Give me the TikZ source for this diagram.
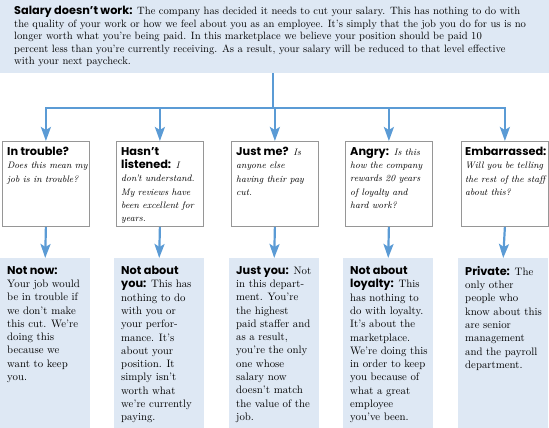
\documentclass[tikz,border=0pt]{standalone}
\usepackage{fontspec}
\newfontfamily\headfont{Poppins}
\usetikzlibrary{arrows.meta}
\usetikzlibrary{positioning}
\definecolor{lineblue}{RGB}{91,155,213}
\definecolor{boxfill}{RGB}{222,232,244}
\definecolor{boxgray}{RGB}{150,150,150}
\newcommand{\hd}[1]{{\headfont\bfseries\fontsize{11.3}{13.3}\selectfont #1}}
\newcommand{\qi}{\itshape\fontsize{9.4}{13}\selectfont}

\begin{document}
\begin{tikzpicture}[x=1pt,y=-1pt,>={Stealth[length=14pt,width=10pt,inset=3pt]},
  link/.style={lineblue,line width=2.2pt},
  qbox/.style={draw=boxgray,line width=0.8pt,minimum width=87pt,minimum height=85pt,anchor=north west,inner sep=0pt},
  abox/.style={fill=boxfill,minimum width=90pt,minimum height=170pt,anchor=north west,inner sep=0pt},
  txt/.style={anchor=north west,inner sep=0pt,align=left,font=\fontsize{10.8}{13.3}\selectfont}]

\useasboundingbox (0,0) rectangle (549,428);

% top statement
\node[fill=boxfill,minimum width=549pt,minimum height=73pt,anchor=north west,inner sep=0pt] (top) at (0,0) {};
\node[txt,font=\fontsize{10.6}{12.6}\selectfont] (toptxt) at (14,6) {\hd{Salary doesn’t work:} The company has decided it needs to cut your salary. This has nothing to do with\\
the quality of your work or how we feel about you as an employee. It’s simply that the job you do for us is no\\
longer worth what you’re being paid. In this marketplace we believe your position should be paid 10\\
percent less than you’re currently receiving. As a result, your salary will be reduced to that level effective\\
with your next paycheck.};

% questions
\node[qbox] (q1) at (2,141) {};
\node[qbox] (q2) at (116,141) {};
\node[qbox] (q3) at (231,141) {};
\node[qbox] (q4) at (345,141) {};
\node[qbox] (q5) at (461,141) {};

\node[txt] (q1txt) at (7,147) {\hd{In trouble?}\\ \qi Does this mean my\\ \qi job is in trouble?};
\node[txt] (q2txt) at (121,147) {\hd{Hasn’t}\\ \hd{listened:} \qi I\\ \qi don’t understand.\\ \qi My reviews have\\ \qi been excellent for\\ \qi years.};
\node[txt] (q3txt) at (236,147) {\hd{Just me?} \qi Is\\ \qi anyone else\\ \qi having their pay\\ \qi cut.};
\node[txt] (q4txt) at (350,147) {\hd{Angry:} \qi Is this\\ \qi how the company\\ \qi rewards 20 years\\ \qi of loyalty and\\ \qi hard work?};
\node[txt] (q5txt) at (465,147) {\hd{Embarrassed:}\\ \qi Will you be telling\\ \qi the rest of the staff\\ \qi about this?};

% answers
\node[abox] (a1) at (0,258) {};
\node[abox] (a2) at (114,258) {};
\node[abox] (a3) at (229,258) {};
\node[abox] (a4) at (343,258) {};
\node[abox] (a5) at (458,258) {};

\node[txt] (a1txt) at (7,266) {\hd{Not now:}\\ Your job would\\ be in trouble if\\ we don’t make\\ this cut. We’re\\ doing this\\ because we\\ want to keep\\ you.};
\node[txt] (a2txt) at (121,266) {\hd{Not about}\\ \hd{you:} This has\\ nothing to do\\ with you or\\ your perfor-\\ mance. It’s\\ about your\\ position. It\\ simply isn’t\\ worth what\\ we’re currently\\ paying.};
\node[txt] (a3txt) at (236,266) {\hd{Just you:} Not\\ in this depart-\\ ment. You’re\\ the highest\\ paid staffer and\\ as a result,\\ you’re the only\\ one whose\\ salary now\\ doesn’t match\\ the value of the\\ job.};
\node[txt] (a4txt) at (350,266) {\hd{Not about}\\ \hd{loyalty:} This\\ has nothing to\\ do with loyalty.\\ It’s about the\\ marketplace.\\ We’re doing this\\ in order to keep\\ you because of\\ what a great\\ employee\\ you’ve been.};
\node[txt] (a5txt) at (465,266) {\hd{Private:} The\\ only other\\ people who\\ know about this\\ are senior\\ management\\ and the payroll\\ department.};

% connectors
\coordinate (bus) at (273,108);
\draw[link] (top.south -| bus) -- (bus);
\draw[link,->] (bus) -| (q1.north);
\draw[link,->] (bus) -| (q5.north);
\draw[link,->] (q2.north |- bus) -- (q2.north);
\draw[link,->] (q3.north |- bus) -- (q3.north);
\draw[link,->] (q4.north |- bus) -- (q4.north);

\draw[link,->] (q1.south) -- (a1.north);
\draw[link,->] (q2.south) -- (a2.north);
\draw[link,->] (q3.south) -- (a3.north);
\draw[link,->] (q4.south) -- (a4.north);
\draw[link,->] (q5.south) -- (a5.north);
\end{tikzpicture}
\end{document}
